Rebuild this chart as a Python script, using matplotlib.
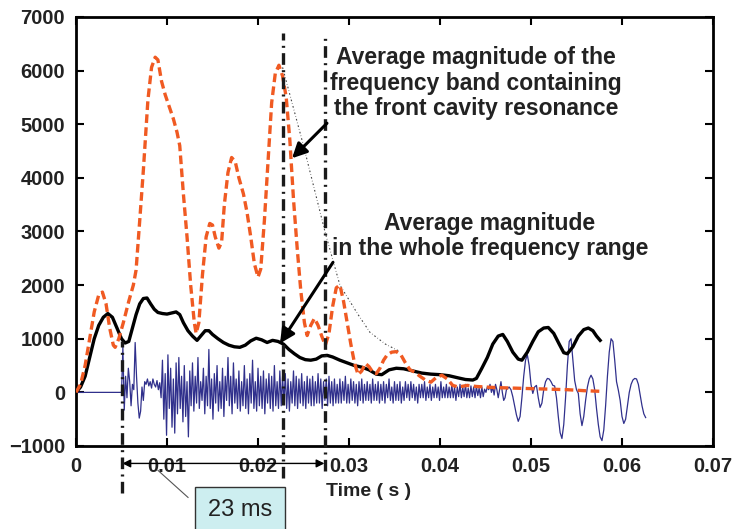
import matplotlib

matplotlib.use("Agg")
import matplotlib.pyplot as plt
import numpy as np
from matplotlib.patches import Rectangle

plt.rcParams["font.family"] = ["Liberation Sans", "DejaVu Sans"]

# whole-range average magnitude (black)
whole_t = [0.0000, 0.0005, 0.0010, 0.0015, 0.0020, 0.0025, 0.0030, 0.0035, 0.0040, 0.0045,
           0.0050, 0.0054, 0.0058, 0.0062, 0.0066, 0.0070, 0.0074, 0.0078, 0.0082, 0.0086,
           0.0090, 0.0095, 0.0100, 0.0105, 0.0110, 0.0114, 0.0118, 0.0123, 0.0128, 0.0133,
           0.0137, 0.0142, 0.0146, 0.0150, 0.0156, 0.0162, 0.0168, 0.0174, 0.0180, 0.0186,
           0.0192, 0.0198, 0.0204, 0.0210, 0.0216, 0.0222, 0.0228, 0.0234, 0.0240, 0.0246,
           0.0252, 0.0258, 0.0264, 0.0270, 0.0276, 0.0282, 0.0290, 0.0298, 0.0306, 0.0314,
           0.0322, 0.0330, 0.0336, 0.0344, 0.0352, 0.0360, 0.0370, 0.0380, 0.0390, 0.0400,
           0.0410, 0.0420, 0.0428, 0.0436, 0.0440, 0.0446, 0.0452, 0.0458, 0.0464, 0.0469,
           0.0474, 0.0480, 0.0486, 0.0490, 0.0496, 0.0502, 0.0508, 0.0514, 0.0519, 0.0525,
           0.0531, 0.0536, 0.0540, 0.0546, 0.0552, 0.0558, 0.0563, 0.0568, 0.0572, 0.0576]
whole_v = [0, 100, 300, 650, 1000, 1250, 1400, 1470, 1400, 1200,
           1000, 920, 950, 1200, 1450, 1650, 1750, 1760, 1650, 1550,
           1490, 1470, 1460, 1480, 1500, 1450, 1300, 1150, 1050, 970,
           1050, 1150, 1150, 1080, 1000, 930, 880, 850, 840, 880,
           960, 1010, 980, 930, 970, 950, 900, 800, 720, 650,
           610, 600, 620, 680, 690, 660, 600, 550, 500, 470,
           420, 340, 330, 420, 450, 440, 400, 360, 340, 330,
           310, 270, 240, 230, 260, 450, 650, 900, 1050, 1080,
           950, 750, 620, 600, 750, 950, 1130, 1200, 1210, 1100,
           900, 740, 720, 850, 1050, 1170, 1200, 1150, 1050, 970]

# band magnitude around front cavity resonance (orange dashed)
band_t = [0.0000, 0.0005, 0.0010, 0.0015, 0.0020, 0.0025, 0.0029, 0.0033, 0.0037, 0.0041,
          0.0043, 0.0047, 0.0052, 0.0058, 0.0063, 0.0066, 0.0070, 0.0074, 0.0079, 0.0083,
          0.0087, 0.0090, 0.0094, 0.0098, 0.0102, 0.0107, 0.0111, 0.0114, 0.0118, 0.0122,
          0.0126, 0.0130, 0.0132, 0.0135, 0.0139, 0.0143, 0.0147, 0.0150, 0.0153, 0.0157,
          0.0160, 0.0163, 0.0167, 0.0171, 0.0175, 0.0179, 0.0184, 0.0188, 0.0192, 0.0196,
          0.0200, 0.0203, 0.0207, 0.0211, 0.0215, 0.0219, 0.0223, 0.0227, 0.0231, 0.0235,
          0.0239, 0.0243, 0.0247, 0.0251, 0.0254, 0.0258, 0.0262, 0.0266, 0.0270, 0.0274,
          0.0278, 0.0282, 0.0286, 0.0290, 0.0294, 0.0298, 0.0302, 0.0306, 0.0310, 0.0314,
          0.0318, 0.0322, 0.0326, 0.0330, 0.0334, 0.0338, 0.0342, 0.0347, 0.0352, 0.0357,
          0.0362, 0.0367, 0.0372, 0.0378, 0.0384, 0.0390, 0.0396, 0.0402, 0.0408, 0.0414,
          0.0420, 0.0430, 0.0440, 0.0450, 0.0460, 0.0480, 0.0500, 0.0520, 0.0540, 0.0560,
          0.0576]
band_v = [0, 150, 500, 1000, 1500, 1820, 1870, 1650, 1200, 880,
          840, 1000, 1300, 1700, 2000, 2280, 3200, 4140, 5450, 6060,
          6250, 6200, 5800, 5550, 5350, 5100, 4850, 4600, 3700, 2900,
          2000, 1300, 1100, 1300, 2200, 2900, 3150, 3120, 2900, 2690,
          2800, 3500, 4100, 4380, 4300, 4000, 3700, 3350, 2900, 2400,
          2150, 2300, 3200, 4300, 5400, 5950, 6100, 5900, 5500, 4700,
          3600, 2700, 1900, 1300, 1060, 1250, 1380, 1250, 1050, 880,
          1100, 1600, 1950, 2000, 1700, 1300, 900, 550, 330, 400,
          540, 480, 380, 350, 450, 600, 700, 750, 760, 700,
          550, 420, 380, 300, 230, 190, 280, 320, 250, 130,
          100, 130, 110, 100, 90, 80, 70, 60, 50, 30,
          20]

# thin dotted envelope after the main band peak
env_t = [0.0227, 0.0250, 0.0274, 0.0290, 0.0310, 0.0323, 0.0340, 0.0355]
env_v = [6060, 4600, 2970, 2000, 1450, 1120, 900, 770]

# speech waveform (blue): silent lead-in, noisy frication, then voicing
lead_t = [0.0, 0.0049]
lead_v = [0, 0]
noise_start, noise_step = 0.0050, 0.00015
noise_v = [
    0, 840, -330, 300, -100, 450, 200, -250, 150, 50,
    930, 300, -200, -480, -350, 100, -150, 200, 150, 250,
    120, 200, 80, 250, 150, 100, 220, 50, 180, -100,
    600, -500, 350, -800, 700, -300, 450, -650, 250, -760,
    550, -400, 650, -300, 300, -550, 500, -450, 200, -830,
    400, -250, 550, -350, 300, -200, 650, -300, 200, -150,
    450, -400, 300, -250, 800, -300, 250, -500, 350, -200,
    500, -350, 200, -300, 450, -450, 300, -150, 650, -250,
    300, -400, 550, -200, 250, -300, 400, -350, 200, -250,
    500, -300, 250, -400, 350, -200, 600, -300, 200, -350,
    450, -250, 300, -300, 400, -400, 250, -200, 350, -300,
    300, -350, 500, -250, 200, -300, 400, -250, 300, -200,
    350, -300, 250, -350, 200, -200, 400, -250, 300, -300,
    250, -200, 350, -250, 200, -300, 300, -200, 250, -250,
    300, -250, 200, -200, 350, -200, 250, -300, 200, -150,
    250, -250, 300, -200, 200, -250, 250, -200, 150, -200,
    250, -200, 200, -150, 300, -200, 150, -200, 250, -150,
    200, -200, 150, -250, 200, -150, 250, -200, 150, -150,
    200, -150, 150, -200, 250, -150, 150, -150, 200, -200,
    150, -150, 200, -200, 150, -100, 250, -150, 100, -200,
    200, -150, 150, -150, 200, -200, 100, -150, 200, -100,
    150, -150, 200, -100, 150, -150, 100, -200, 150, -100,
    150, -100, 200, -150, 100, -100, 150, -150, 100, -100,
    150, -100, 100, -150, 200, -100, 100, -100, 150, -100,
    100, -100, 150, -100, 100, -150, 100, -80, 150, -100,
    100, -80, 150, -100, 80, -100, 120, -80, 100, -100,
    120, -60, 80, -100, 100, -80, 60, 0, 100, 50,
    150, 0, 100, -50, 150, 50, -100, 50, 200, 0, -150, -100, 50,
]
voiced_start, voiced_step = 0.0476, 0.0002
voiced_v = [
    100, 50, -80, -250, -420, -540, -450, -100, 300, 600,
    700, 500, 150, -20, 100, 130, -100, -280, -200, 50,
    200, 260, 250, 200, 130, 120, -100, -450, -750, -860,
    -600, -100, 500, 950, 1000, 600, 220, 50, -20, -400,
    -620, -450, -150, 100, 250, 320, 250, 50, -300, -600,
    -830, -900, -700, -250, 300, 750, 1000, 950, 600, 200,
    40, -150, -450, -580, -500, -250, 0, 150, 230, 260,
    250, 150, -50, -250, -400, -470,
]

# vertical markers (data units)
marker_x = [0.0050, 0.02275, 0.0274]
marker_top = [950, 6700, 6700]
marker_bottom = [-1870, -1590, -1460]

noise_t = noise_start + noise_step * np.arange(len(noise_v))
voiced_t = voiced_start + voiced_step * np.arange(len(voiced_v))
wave_t = np.concatenate([lead_t, noise_t, voiced_t])
wave_v = np.concatenate([lead_v, noise_v, voiced_v])

fig = plt.figure(figsize=(7.38, 5.29), dpi=100, facecolor="white")
ax = fig.add_axes([0.1030, 0.1569, 0.8631, 0.8110])

ax.plot(wave_t, wave_v, color="#30308c", lw=0.9, zorder=2)
ax.plot(whole_t, whole_v, color="black", lw=2.4, zorder=3)
ax.plot(band_t, band_v, color="#f05a22", lw=2.4, dashes=(2.6, 1.3), zorder=4)
ax.plot(env_t, env_v, color="#444444", lw=0.8, dashes=(1.5, 2.0, 0.5, 2.0), zorder=3)

for x, y0, y1 in zip(marker_x, marker_bottom, marker_top):
    ax.plot([x, x], [y0, y1], color="#1a1a1a", lw=2.4, dashes=(3.5, 1.6, 0.6, 1.6),
            clip_on=False, zorder=5)

ax.set_xlim(0, 0.07)
ax.set_ylim(-1000, 7000)
ax.set_xticks(np.arange(0, 0.071, 0.01))
ax.set_xticklabels(["0", "0.01", "0.02", "0.03", "0.04", "0.05", "0.06", "0.07"])
ax.set_yticks(np.arange(-1000, 7001, 1000))
ax.tick_params(axis="both", direction="in", length=6, width=1.5, top=True, right=True,
               labelsize=14.5, pad=8)
for lab in ax.get_xticklabels() + ax.get_yticklabels():
    lab.set_fontweight("bold")
    lab.set_color("#222222")
for sp in ax.spines.values():
    sp.set_linewidth(2.0)

fig.text(369 / 738, 1 - 492 / 529, "Time ( s )", ha="center", va="center",
         fontsize=14, fontweight="bold", color="#222222")

ax.text(0.04396, 5765, "Average magnitude of the\nfrequency band containing\nthe front cavity resonance",
        ha="center", va="center", fontsize=16.5, fontweight="bold", linespacing=1.13,
        multialignment="center", color="#222222", zorder=6)
ax.text(0.0455, 2910, "Average magnitude\nin the whole frequency range",
        ha="center", va="center", fontsize=16.5, fontweight="bold", linespacing=1.13,
        multialignment="center", color="#222222", zorder=6)

arrow_kw = dict(arrowstyle="-|>", lw=2.2, color="black", mutation_scale=22,
                shrinkA=0, shrinkB=0)
ax.annotate("", xy=(0.02374, 4366), xytext=(0.02758, 5019), arrowprops=arrow_kw, zorder=7)
ax.annotate("", xy=(0.02242, 914), xytext=(0.02824, 2425), arrowprops=arrow_kw, zorder=7)

ax.annotate("", xy=(0.0051, -1325), xytext=(0.0273, -1325), annotation_clip=False,
            arrowprops=dict(arrowstyle="<|-|>", lw=1.0, color="black", mutation_scale=12,
                            shrinkA=0, shrinkB=0))
ax.plot([0.01231, 0.00901], [-1959, -1455], color="#555555", lw=0.8, clip_on=False)
ax.add_patch(Rectangle((0.01308, -2800), 0.00989, 1028, facecolor="#cdeef0",
                       edgecolor="#333333", lw=1.0, clip_on=False, zorder=6))
ax.text(0.01802, -2190, "23 ms", ha="center", va="center", fontsize=17,
        color="#222222", clip_on=False, zorder=7)

fig.savefig("out.png", dpi=100, facecolor="white")
